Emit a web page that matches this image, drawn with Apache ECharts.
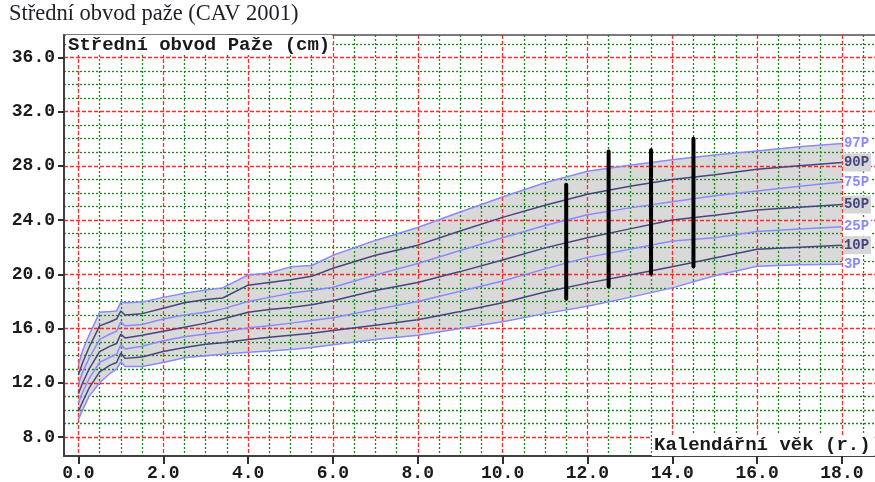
<!DOCTYPE html>
<html>
<head>
<meta charset="utf-8">
<script src="https://cdn.jsdelivr.net/npm/echarts@6/dist/echarts.min.js"></script>
<style>
  html, body { margin: 0; padding: 0; background: #fff; }
  #chart { width: 875px; height: 482px; }
</style>
</head>
<body>
<div id="chart"></div>
<script>
// Age (years) at which the percentile values are given
const ages = [0, 0.1, 0.25, 0.5, 0.75, 0.9, 1.0, 1.1, 1.5, 2.0, 2.5, 3.0, 3.4, 4.0, 4.5, 5.0, 5.5, 6.0,
              7.0, 8.0, 9.0, 10.0, 11.0, 12.0, 13.0, 14.0, 15.0, 16.0, 17.0, 18.0];

// Mid upper arm circumference (cm), percentile curves
const p3  = [9.3, 10.0, 11.0, 12.0, 12.7, 13.0, 13.55, 13.2, 13.2, 13.5, 13.85, 14.0, 14.1, 14.25, 14.35, 14.45, 14.6, 14.8,
             15.2, 15.5, 16.0, 16.5, 17.1, 17.65, 18.3, 19.0, 19.9, 20.6, 20.7, 20.75];
const p10 = [9.9, 10.6, 11.6, 12.8, 13.3, 13.5, 14.2, 13.8, 13.9, 14.3, 14.6, 14.85, 14.95, 15.2, 15.35, 15.5, 15.65, 15.85,
             16.25, 16.65, 17.25, 17.9, 18.7, 19.35, 19.95, 20.55, 21.2, 21.85, 22.0, 22.15];
const p25 = [10.5, 11.3, 12.3, 13.5, 13.9, 14.1, 14.8, 14.5, 14.7, 15.1, 15.4, 15.6, 15.75, 16.05, 16.2, 16.4, 16.6, 16.8,
             17.4, 18.0, 18.75, 19.5, 20.4, 21.25, 21.85, 22.45, 22.7, 23.15, 23.35, 23.5];
const p50 = [11.2, 12.0, 13.0, 14.3, 14.7, 14.9, 15.6, 15.3, 15.5, 15.8, 16.1, 16.4, 16.7, 17.2, 17.4, 17.55, 17.75, 18.05,
             18.8, 19.4, 20.2, 21.05, 21.95, 22.7, 23.35, 24.0, 24.35, 24.75, 24.95, 25.15];
const p75 = [11.9, 12.8, 13.8, 15.2, 15.6, 15.8, 16.5, 16.2, 16.3, 16.7, 17.0, 17.2, 17.45, 18.0, 18.3, 18.6, 18.8, 19.05,
             19.95, 20.8, 21.75, 22.7, 23.6, 24.4, 24.9, 25.35, 25.8, 26.15, 26.5, 26.8];
const p90 = [12.6, 13.5, 14.6, 16.2, 16.5, 16.7, 17.3, 17.0, 17.1, 17.5, 17.9, 18.15, 18.25, 19.2, 19.4, 19.6, 19.85, 20.45,
             21.4, 22.15, 23.2, 24.2, 25.1, 25.9, 26.5, 27.0, 27.35, 27.75, 28.0, 28.25];
const p97 = [13.3, 14.4, 15.5, 17.2, 17.25, 17.3, 17.95, 17.9, 17.95, 18.3, 18.6, 18.85, 19.0, 19.95, 20.1, 20.55, 20.65, 21.4,
             22.5, 23.45, 24.6, 25.7, 26.75, 27.6, 28.05, 28.45, 28.8, 29.1, 29.4, 29.65];

const curveNames = ['3P', '10P', '25P', '50P', '75P', '90P', '97P'];
const curveValues = [p3, p10, p25, p50, p75, p90, p97];

// Individual measurements: age and measured range (min, max)
const measureAges = [11.5, 12.5, 13.5, 14.5];
const measureLow  = [18.2, 19.1, 20.05, 20.6];
const measureHigh = [26.6, 29.05, 29.15, 30.0];

// Axis tick values
const xMajorTicks = [0, 2, 4, 6, 8, 10, 12, 14, 16, 18];
const xMinorTicks = [0.5, 1, 1.5, 2.5, 3, 3.5, 4.5, 5, 5.5, 6.5, 7, 7.5, 8.5, 9, 9.5, 10.5, 11, 11.5,
                     12.5, 13, 13.5, 14.5, 15, 15.5, 16.5, 17, 17.5, 18.5];
const yMajorTicks = [8, 12, 16, 20, 24, 28, 32, 36];
const yMinorTicks = [9, 10, 11, 13, 14, 15, 17, 18, 19, 21, 22, 23, 25, 26, 27, 29, 30, 31, 33, 34, 35, 37];

const LIGHT = '#8a8aff';
const DARK = '#45457f';
const BAND = '#d9d9d9';
const MONO = '"Liberation Mono", "DejaVu Sans Mono", monospace';

const X_MIN = -0.34, X_MAX = 18.78;
const Y_MIN = 6.6, Y_MAX = 37.65;

const chart = echarts.init(document.getElementById('chart'), null, { renderer: 'canvas' });

function pairs(vals) { return ages.map((a, i) => [a, vals[i]]); }

// one quad per age interval, between the 3P and 97P curves
const bandSegments = ages.slice(0, -1).map((a, i) => [a, ages[i + 1], p3[i], p3[i + 1], p97[i], p97[i + 1]]);

const curveSeries = curveNames.map((name, k) => {
  const dark = (k % 2 === 1);
  return {
    name: name,
    type: 'line',
    xAxisIndex: 0, yAxisIndex: 0,
    data: pairs(curveValues[k]),
    symbol: 'none',
    z: 4,
    silent: true,
    lineStyle: { color: dark ? DARK : LIGHT, width: 1.5 },
    endLabel: {
      show: true,
      formatter: name,
      distance: 1,
      color: dark ? DARK : LIGHT,
      fontFamily: MONO,
      fontWeight: 'bold',
      fontSize: 14,
      backgroundColor: dark ? '#d6d6d6' : '#ffffff',
      padding: [2, 2, 2, 1]
    }
  };
});

const option = {
  animation: false,
  backgroundColor: '#ffffff',
  title: [
    {
      text: 'Střední obvod paže (CAV 2001)',
      left: 9, top: 3,
      padding: 0,
      textStyle: { fontFamily: '"Liberation Serif", serif', fontSize: 22.5, fontWeight: 'normal', color: '#1e1e28' }
    },
    {
      text: 'Střední obvod Paže (cm)',
      left: 66, top: 35,
      padding: [1, 2, 0, 2],
      backgroundColor: '#ffffff',
      textStyle: { fontFamily: MONO, fontSize: 19, fontWeight: 'bold', color: '#1a1a1a' }
    },
    {
      text: 'Kalendářní věk (r.)',
      left: 652, top: 435,
      padding: [1, 4, 1, 2],
      backgroundColor: '#ffffff',
      textStyle: { fontFamily: MONO, fontSize: 19, fontWeight: 'bold', color: '#1a1a1a' }
    }
  ],
  grid: { left: 64, right: 0, top: 35, bottom: 20, containLabel: false },
  xAxis: [
    {
      // main age axis: labels, ticks, red major grid
      type: 'value', min: X_MIN, max: X_MAX, position: 'bottom', z: 3,
      axisLine: { show: true, onZero: false, lineStyle: { color: '#404040', width: 2 } },
      axisTick: { show: true, customValues: xMajorTicks, length: 8, lineStyle: { color: '#303030', width: 2 } },
      axisLabel: {
        show: true, customValues: xMajorTicks, margin: 8,
        formatter: v => v.toFixed(1),
        fontFamily: MONO, fontWeight: 'bold', fontSize: 18, color: '#1a1a1a'
      },
      splitLine: { show: true, lineStyle: { color: '#ff2a2a', width: 1.3, type: [4, 2] } }
    },
    {
      // minor green grid every half year
      type: 'value', min: X_MIN, max: X_MAX, position: 'bottom', z: 2,
      axisLine: { show: false },
      axisTick: { show: false, customValues: xMinorTicks },
      axisLabel: { show: false },
      splitLine: { show: true, lineStyle: { color: '#17881a', width: 1.3, type: [2, 2] } }
    },
    {
      // top frame line
      type: 'value', min: X_MIN, max: X_MAX, position: 'top', z: 3,
      axisLine: { show: true, onZero: false, lineStyle: { color: '#505050', width: 1.5 } },
      axisTick: { show: false }, axisLabel: { show: false }, splitLine: { show: false }
    }
  ],
  yAxis: [
    {
      type: 'value', min: Y_MIN, max: Y_MAX, position: 'left', z: 3,
      axisLine: { show: true, onZero: false, lineStyle: { color: '#404040', width: 2 } },
      axisTick: { show: true, customValues: yMajorTicks, length: 6, lineStyle: { color: '#303030', width: 2 } },
      axisLabel: {
        show: true, customValues: yMajorTicks, margin: 9,
        formatter: v => v.toFixed(1),
        fontFamily: MONO, fontWeight: 'bold', fontSize: 18, color: '#1a1a1a'
      },
      splitLine: { show: true, lineStyle: { color: '#ff2a2a', width: 1.3, type: [4, 2] } }
    },
    {
      type: 'value', min: Y_MIN, max: Y_MAX, position: 'left', z: 2,
      axisLine: { show: false },
      axisTick: { show: false, customValues: yMinorTicks },
      axisLabel: { show: false },
      splitLine: { show: true, lineStyle: { color: '#17881a', width: 1.3, type: [2, 2] } }
    }
  ],
  series: [
    {
      // shaded band between 3P and 97P
      type: 'custom', xAxisIndex: 0, yAxisIndex: 0, z: 1, silent: true,
      data: bandSegments,
      encode: { x: [0, 1], y: [2, 3, 4, 5] },
      renderItem: function (params, api) {
        const a0 = api.value(0), a1 = api.value(1);
        const pts = [
          api.coord([a0, api.value(4)]),
          api.coord([a1, api.value(5)]),
          api.coord([a1, api.value(3)]),
          api.coord([a0, api.value(2)])
        ];
        return {
          type: 'polygon',
          shape: { points: pts },
          style: { fill: BAND, stroke: BAND, lineWidth: 0.8 }
        };
      }
    },
    ...curveSeries,
    {
      // measured ranges drawn as thick vertical bars
      type: 'custom', xAxisIndex: 0, yAxisIndex: 0, z: 5, silent: true,
      data: measureAges.map((a, i) => [a, measureLow[i], measureHigh[i]]),
      encode: { x: 0, y: [1, 2] },
      renderItem: function (params, api) {
        const lo = api.coord([api.value(0), api.value(1)]);
        const hi = api.coord([api.value(0), api.value(2)]);
        return {
          type: 'line',
          shape: { x1: lo[0], y1: lo[1], x2: hi[0], y2: hi[1] },
          style: { stroke: '#000000', lineWidth: 4, lineCap: 'round' }
        };
      }
    }
  ]
};

chart.setOption(option);
</script>
</body>
</html>
